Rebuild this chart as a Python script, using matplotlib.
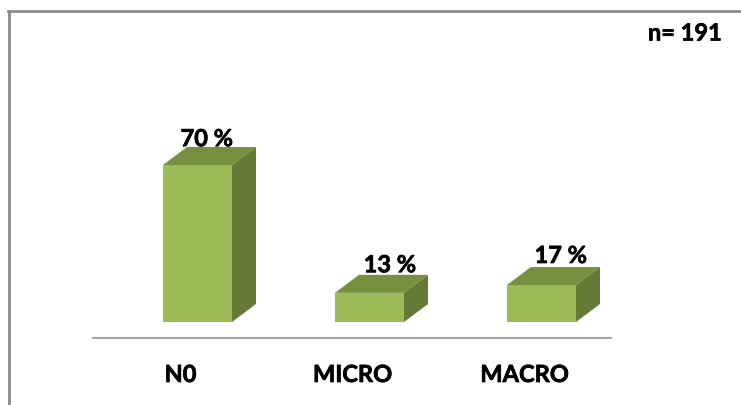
import matplotlib
matplotlib.use("Agg")
import matplotlib.pyplot as plt
import matplotlib.patheffects as pe
from matplotlib.lines import Line2D
from matplotlib.patches import Polygon
from matplotlib.transforms import ScaledTranslation

plt.rcParams["font.family"] = "Lato"
plt.rcParams["font.weight"] = "bold"

categories = ["N0", "MICRO", "MACRO"]
values = [70, 13, 16.5]
value_labels = ["70 %", "13 %", "17 %"]
sample_label = "n= 191"

W, H = 741, 405
fig = plt.figure(figsize=(W / 100, H / 100), dpi=100)

# axes box in pixels of the reference, axis line sits at y=338
ax = fig.add_axes([93 / W, 1 - 338 / H, (611 - 93) / W, (338 - 12) / H])
px_x = 172
px_y = 2.243
ax.set_xlim((93 - 197.5) / px_x, (611 - 197.5) / px_x)
ax.set_ylim(-16 / px_y, (322 - 12) / px_y)

bar_w = 69 / px_x
dx = 24 / px_x
dy = 18 / px_y

# the labels were placed by hand in the original, so each has its own nudge (points)
nudges = [(-2, -2.3), (6, -1), (5.2, 0)]
# fattens the glyphs a bit, Lato bold is lighter than the original font
heavy = [pe.withStroke(linewidth=0.5, foreground="black")]

xs = range(len(categories))
ax.bar(xs, values, width=bar_w, color="#9bbb59", linewidth=0, zorder=3)
for x, v, lab, nudge in zip(xs, values, value_labels, nudges):
    l, r = x - bar_w / 2, x + bar_w / 2
    # top and side faces of the fake 3d box
    ax.add_patch(Polygon([(l, v), (r, v), (r + dx, v + dy), (l + dx, v + dy)],
                         color="#77903f", linewidth=0, zorder=3))
    ax.add_patch(Polygon([(r, 0), (r + dx, dy), (r + dx, v + dy), (r, v)],
                         color="#657a36", linewidth=0, zorder=3))
    ax.annotate(lab, (x + dx / 2, v + dy), xytext=nudge, textcoords="offset points",
                ha="center", va="bottom", fontsize=17, color="black", zorder=4,
                path_effects=heavy)

ax.set_xticks(list(xs))
ax.set_xticklabels(categories, fontsize=17, path_effects=heavy)
ax.tick_params(axis="x", length=0, pad=18)
# category labels sit left of the bar centres in the reference
shift = ScaledTranslation(-17 / 100, 0, fig.dpi_scale_trans)
for t in ax.get_xticklabels():
    t.set_transform(t.get_transform() + shift)
ax.set_yticks([])
for s in ["top", "left", "right"]:
    ax.spines[s].set_visible(False)
ax.spines["bottom"].set_color("#a6a6a6")
ax.spines["bottom"].set_linewidth(1.5)
ax.patch.set_alpha(0)

fig.text(685 / W, 1 - 33 / H, sample_label, ha="center", va="center", fontsize=17,
         color="black", path_effects=heavy)

# outer chart frame, cropped at right and bottom
fig.add_artist(Line2D([9 / W, 9 / W], [0, 1 - 11 / H], color="#8c8c8c", linewidth=2))
fig.add_artist(Line2D([8 / W, 1], [1 - 11 / H, 1 - 11 / H], color="#8c8c8c", linewidth=2))

fig.savefig("out.png", dpi=100)
